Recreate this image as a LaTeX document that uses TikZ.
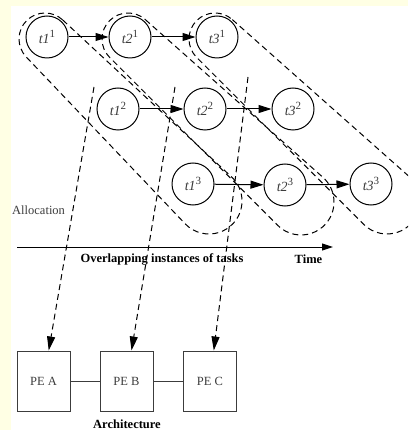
\documentclass[tikz,border=0pt]{standalone}
\usepackage{fontspec}
\setmainfont{Liberation Serif}
\usetikzlibrary{arrows.meta,calc}
\definecolor{bgyellow}{RGB}{255,255,228}
\definecolor{labelgray}{RGB}{60,60,60}
\definecolor{boxgray}{RGB}{60,60,60}
\newcommand\tl[2]{\textit{t#1}\raisebox{0.45em}{\fontsize{11}{12}\selectfont #2}}
\newcommand\myenv[2]{%
  \draw[envline] let \p1=($(#1.center)+(-2,-2)$), \p2=($(#2.center)+(16,-17)$),
    \n1={atan2(\y2-\y1,\x2-\x1)}, \n2={veclen(\x2-\x1,\y2-\y1)}, \n3={asin(7/\n2)} in
    ($(\p1)+(\n1+90+\n3:26)$) -- ($(\p2)+(\n1+90+\n3:33)$)
    arc[start angle=\n1+90+\n3, delta angle=-180-2*\n3, radius=33]
    -- ($(\p1)+(\n1-90-\n3:26)$)
    arc[start angle=\n1-90-\n3, delta angle=-180+2*\n3, radius=26] -- cycle;}
\begin{document}
\begin{tikzpicture}[x=1pt,y=1pt,
  task/.style={circle, draw, line width=1pt, minimum size=42pt, inner sep=0pt,
    font=\fontsize{14}{16}\selectfont, text=labelgray},
  harrow/.style={-{Triangle[length=13pt,width=8pt]}, line width=1pt},
  envline/.style={dash pattern=on 6pt off 4pt, line width=1pt},
  alloc/.style={dash pattern=on 6pt off 4pt, line width=1pt, -{Triangle[length=14pt,width=8pt]}},
  pe/.style={draw=boxgray, line width=1pt, minimum width=53pt, minimum height=60pt,
    inner sep=0pt, font=\fontsize{12.5}{14}\selectfont, text=labelgray},
  link/.style={draw=boxgray, line width=0.8pt},
  plain/.style={inner sep=0pt, font=\fontsize{12.5}{14}\selectfont, text=labelgray},
  boldlbl/.style={inner sep=0pt, font=\fontsize{12.5}{14}\selectfont\bfseries},
  timeaxis/.style={line width=1pt, -{Triangle[length=11pt,width=7pt]}}]
\useasboundingbox (0,0) rectangle (408,-430);
\clip (0,0) rectangle (408,-430);
\fill[bgyellow] (0,0) rectangle (408,-430);
\fill[white] (11,-6) rectangle (408,-430);
% tasks
\node[task] (t11) at (47,-37) {\tl{1}{1}};
\node[task] (t21) at (130,-37) {\tl{2}{1}};
\node[task] (t31) at (217,-37) {\tl{3}{1}};
\node[task] (t12) at (118,-109) {\tl{1}{2}};
\node[task] (t22) at (205,-109) {\tl{2}{2}};
\node[task] (t32) at (293,-109) {\tl{3}{2}};
\node[task] (t13) at (193,-184) {\tl{1}{3}};
\node[task] (t23) at (285,-185) {\tl{2}{3}};
\node[task] (t33) at (371,-184) {\tl{3}{3}};
% envelopes
\myenv{t11}{t13}
\myenv{t21}{t23}
\myenv{t31}{t33}
% task arrows
\draw[harrow] (t11) -- (t21);
\draw[harrow] (t21) -- (t31);
\draw[harrow] (t12) -- (t22);
\draw[harrow] (t22) -- (t32);
\draw[harrow] (t13) -- (t23);
\draw[harrow] (t23) -- (t33);
% time axis
\coordinate (tstart) at (17,-247);
\coordinate (tend) at (333,-247);
\draw[timeaxis] (tstart) -- (tend);
\node[plain, anchor=west] (alloclbl) at (12,-210) {Allocation};
\node[boldlbl] (ovl) at (162,-259) {Overlapping instances of tasks};
\node[boldlbl] (time) at (308.5,-259) {Time};
% architecture
\node[pe] (PEA) at (43.5,-381) {PE A};
\node[pe] (PEB) at (126.5,-381) {PE B};
\node[pe] (PEC) at (210,-381) {PE C};
\draw[link] (PEA) -- (PEB);
\draw[link] (PEB) -- (PEC);
\node[boldlbl] (arch) at (127,-424) {Architecture};
% allocation arrows
\coordinate (a1) at (94,-87);
\coordinate (a2) at (175,-87);
\coordinate (a3) at (248,-77);
\draw[alloc] (a1) -- (PEA);
\draw[alloc] (a2) -- (PEB);
\draw[alloc] (a3) -- (PEC);
\end{tikzpicture}
\end{document}
